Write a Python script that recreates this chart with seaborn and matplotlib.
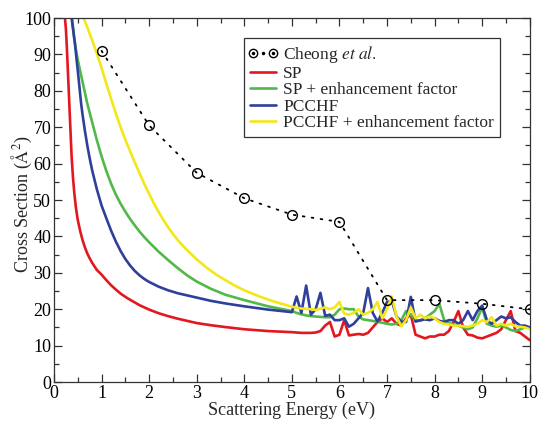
import numpy as np
import pandas as pd
import matplotlib
matplotlib.use("Agg")
import matplotlib.pyplot as plt
from matplotlib.legend_handler import HandlerBase
from matplotlib.lines import Line2D
import seaborn as sns

# ---------------- data ----------------
cheong_x = [1, 2, 3, 4, 5, 6, 7, 8, 9, 10]
cheong_y = [91, 70.5, 57.5, 50.5, 46, 44, 22.5, 22.5, 21.5, 20]

noise_x = [round(5.0 + 0.1 * i, 1) for i in range(51)]

sp_x0 = [0.23, 0.25, 0.27, 0.29, 0.31, 0.33, 0.35, 0.37, 0.4, 0.43, 0.46, 0.5, 0.55, 0.6,
         0.65, 0.7, 0.75, 0.8, 0.9, 1.0, 1.1, 1.2, 1.3, 1.4, 1.5, 1.6, 1.8, 2.0, 2.2, 2.4,
         2.6, 2.8, 3.0, 3.3, 3.6, 4.0, 4.5]
sp_y0 = [100, 97, 92, 86, 80, 74, 68, 62, 56, 51.5, 48, 44.5, 41.5, 39, 37, 35.3, 34,
         32.8, 30.8, 29.5, 28, 26.6, 25.4, 24.3, 23.4, 22.6, 21.1, 19.9, 18.9, 18.1, 17.4,
         16.8, 16.2, 15.6, 15.1, 14.5, 14.0]
sp_yn = [13.7, 13.6, 13.5, 13.5, 13.5, 13.6, 14, 15.5, 16.5, 12.5, 13, 17, 12.8, 13, 13.2,
         13, 13.5, 15, 16.5, 17.5, 16.5, 17.5, 16, 15.5, 17.5, 18.5, 13, 12.5, 12, 12.5,
         12.5, 13, 13, 14, 16.5, 19.5, 15, 13, 12.8, 12.2, 12, 12.5, 13, 13.5, 14.5, 17,
         19.5, 14, 13.5, 12.5, 11.5]

spe_x0 = [0.38, 0.42, 0.46, 0.5, 0.55, 0.6, 0.65, 0.7, 0.75, 0.8, 0.85, 0.9, 1.0, 1.1,
          1.2, 1.3, 1.4, 1.5, 1.6, 1.7, 1.8, 1.9, 2.0, 2.2, 2.4, 2.6, 2.8, 3.0, 3.3, 3.6,
          4.0, 4.5]
spe_y0 = [100, 95, 91.5, 88.5, 85.5, 82.5, 79.5, 76.5, 74, 71.5, 69, 66.5, 62, 58, 54.5,
          51.5, 49, 46.8, 44.8, 43, 41.3, 39.8, 38.4, 35.8, 33.5, 31.3, 29.3, 27.6, 25.6,
          24, 22.5, 20.8]
spe_yn = [19.5, 19.0, 18.6, 18.3, 18.1, 18.0, 17.9, 17.8, 17.8, 18.5, 20, 20.2, 20, 20,
          18, 17.2, 17, 16.8, 16.5, 16.3, 16, 15.8, 16, 17, 19.5, 18.5, 17, 16.8, 17.5,
          18.5, 19.5, 21.5, 17, 16.2, 15.8, 15.5, 15, 14.5, 15, 17.5, 20.5, 16, 15.5,
          15.2, 15.5, 15, 14.3, 14, 14.5, 15, 15]

pc_x0 = [0.37, 0.4, 0.44, 0.48, 0.52, 0.57, 0.6, 0.65, 0.7, 0.75, 0.8, 0.9, 1.0, 1.1, 1.2,
         1.3, 1.4, 1.5, 1.6, 1.7, 1.8, 1.9, 2.0, 2.2, 2.4, 2.6, 2.8, 3.0, 3.3, 3.6, 4.0,
         4.5]
pc_y0 = [100, 97, 93, 88, 83, 76.5, 73.5, 69, 65, 61.5, 58.3, 53, 48.5, 45, 41.6, 38.6,
         36, 33.8, 32, 30.5, 29.3, 28.3, 27.5, 26.2, 25.2, 24.4, 23.8, 23.2, 22.3, 21.6,
         20.8, 19.9]
pc_yn = [19.2, 23.5, 19.0, 26.5, 18.5, 20, 24.5, 18.2, 18.5, 17, 17, 17.5, 15.2, 16,
         17.5, 19, 25.8, 19, 16.6, 19, 22, 22.3, 18, 16.6, 16.5, 23.4, 16.6, 17, 17.2, 17,
         17.5, 16.8, 16.5, 17, 17, 16, 17, 19.5, 17, 19.5, 21, 17, 16, 17, 18, 17.5,
         17.8, 16.5, 15.5, 15.5, 15]

pce_x0 = [0.62, 0.7, 0.8, 0.9, 1.0, 1.1, 1.2, 1.3, 1.4, 1.5, 1.6, 1.7, 1.8, 1.9, 2.0,
          2.1, 2.2, 2.3, 2.4, 2.6, 2.8, 3.0, 3.2, 3.4, 3.6, 3.8, 4.0, 4.3, 4.6]
pce_y0 = [100, 97.5, 94, 90.3, 86.3, 82, 77.8, 73.8, 70, 66.6, 63.4, 60.3, 57.3, 54.4,
          51.7, 49.1, 46.7, 44.5, 42.5, 39, 36.2, 33.7, 31.5, 29.6, 28, 26.5, 25.2, 23.6,
          22.2]
pce_yn = [20.7, 20.4, 20.2, 20.1, 20.0, 19.8, 20.2, 20.5, 20.0, 20.5, 22, 18.8, 18.5, 19,
          20, 18.5, 19, 20, 22, 17.5, 20, 23.5, 18, 15.3, 17, 20.5, 17.5, 18.5, 17.5, 18,
          17.5, 16.5, 16, 15.8, 15.5, 15.5, 15.3, 15.2, 15.5, 16, 17, 16.5, 17.8, 15.5,
          16, 15.5, 16, 15.3, 15.2, 15, 14.5]

labels = ["SP", "SP + enhancement factor", "PCCHF", "PCCHF + enhancement factor"]
colors = ["#e3171f", "#52b848", "#2e3f9c", "#f4e718"]
xticks = list(range(0, 11))
yticks = list(range(0, 101, 10))

series = [(sp_x0, sp_y0, sp_yn), (spe_x0, spe_y0, spe_yn),
          (pc_x0, pc_y0, pc_yn), (pce_x0, pce_y0, pce_yn)]
frames = []
for lab, (x0, y0, yn) in zip(labels, series):
    frames.append(pd.DataFrame({"x": list(x0) + noise_x, "y": list(y0) + list(yn),
                                "series": lab}))
df = pd.concat(frames, ignore_index=True)
cheong_df = pd.DataFrame({"x": cheong_x, "y": cheong_y})

# ---------------- style ----------------
sns.set_style("ticks")
plt.rcParams["font.family"] = ["Liberation Serif", "DejaVu Serif"]
plt.rcParams["mathtext.fontset"] = "stix"

fig = plt.figure(figsize=(5.4, 4.21), dpi=100)
ax = fig.add_axes([0.1, 0.0926, 0.881, 0.8644])

sns.lineplot(data=df, x="x", y="y", hue="series", hue_order=labels,
             palette=dict(zip(labels, colors)), sort=False, estimator=None,
             linewidth=1.9, ax=ax, legend=False)
sns.lineplot(data=cheong_df, x="x", y="y", color="black", ax=ax, legend=False,
             linewidth=1.3, linestyle=(0, (1, 4)), marker="o", markersize=7,
             markerfacecolor="none", markeredgecolor="black", markeredgewidth=1.0)
for ln in ax.lines:
    ln.set_dash_capstyle("round")
    ln.set_solid_joinstyle("round")

ax.set_xlim(0, 10)
ax.set_ylim(0, 100)
ax.set_xticks(xticks)
ax.set_yticks(yticks)
ax.set_xticks(np.arange(0.5, 10, 1.0), minor=True)
ax.set_yticks(np.arange(5, 100, 10), minor=True)
ax.tick_params(which="both", direction="in", top=True, right=True, labelsize=13,
               width=0.9, colors="#333333", labelcolor="black")
ax.tick_params(which="major", length=6, pad=2)
ax.tick_params(which="minor", length=3.5)
for s in ax.spines.values():
    s.set_linewidth(0.9)
    s.set_color("#333333")

ax.set_xlabel("Scattering Energy (eV)", fontsize=13, labelpad=0)
ax.set_ylabel(r"Cross Section ($\mathrm{\AA}^2$)", fontsize=13)
ax.yaxis.set_label_coords(-0.041, 0.49)


# legend: Grace-style "circle . circle" handle for the reference data
class HandlerCheong(HandlerBase):
    def create_artists(self, legend, orig_handle, xdescent, ydescent, width, height,
                       fontsize, trans):
        y = height / 2.0 - ydescent
        x0 = -xdescent + 0.12 * width
        x1 = -xdescent + 0.88 * width
        xm = 0.5 * (x0 + x1)
        circles = Line2D([x0, x1], [y, y], linestyle="none", marker="o", markersize=6,
                         markerfacecolor="none", markeredgecolor="black",
                         markeredgewidth=1.0, transform=trans)
        dots = Line2D([x0, xm, x1], [y, y, y], linestyle="none", marker="o",
                      markersize=1.5, color="black", transform=trans)
        return [circles, dots]


ch_handle = Line2D([], [], color="black")
handles = [ch_handle] + [Line2D([], [], color=c, linewidth=1.9) for c in colors]
leg_labels = [r"Cheong $\it{et\ al.}$"] + labels
leg = ax.legend(handles, leg_labels, loc="upper left", bbox_to_anchor=(0.40, 0.945),
                borderaxespad=0, fontsize=12.5, frameon=True, fancybox=False,
                edgecolor="black", handlelength=1.5, handletextpad=0.4,
                labelspacing=0.02, borderpad=0.35,
                handler_map={ch_handle: HandlerCheong()})
leg.get_frame().set_linewidth(0.9)

fig.savefig("out.png", dpi=100)
